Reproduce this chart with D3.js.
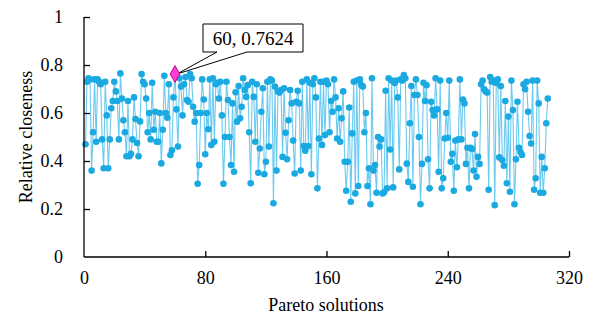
<!DOCTYPE html>
<html><head><meta charset="utf-8">
<script src="https://cdn.jsdelivr.net/npm/d3@7"></script>
<style>body{margin:0;background:#fff}svg{display:block}text{font-family:"Liberation Serif","Times New Roman",serif !important;fill:#000}</style>
</head><body>
<svg id="c" width="593" height="320"></svg>
<script>
const xTicks = [0, 80, 160, 240, 320];
const yTicks = [0, 0.2, 0.4, 0.6, 0.8, 1];
const yTickLabels = ["0", "0.2", "0.4", "0.6", "0.8", "1"];
const xTitle = "Pareto solutions";
const yTitle = "Relative closeness";
const highlight = {x: 60, y: 0.7624, label: "60, 0.7624"};
const closeness = [
0.47,0.73,0.745,0.74,0.36,0.52,0.74,0.48,0.74,0.73,
0.72,0.49,0.37,0.73,0.59,0.37,0.49,0.62,0.65,0.73,
0.69,0.65,0.49,0.765,0.66,0.57,0.52,0.42,0.65,0.42,
0.43,0.49,0.665,0.575,0.475,0.42,0.565,0.762,0.73,0.72,
0.66,0.52,0.60,0.49,0.726,0.53,0.605,0.48,0.48,0.60,
0.39,0.53,0.755,0.60,0.58,0.72,0.425,0.445,0.665,0.7624,
0.615,0.46,0.745,0.71,0.59,0.72,0.75,0.654,0.647,0.762,
0.745,0.626,0.564,0.6,0.305,0.383,0.6,0.74,0.656,0.428,
0.6,0.532,0.74,0.467,0.745,0.48,0.72,0.726,0.66,0.73,
0.59,0.305,0.5,0.73,0.654,0.5,0.383,0.64,0.355,0.686,
0.564,0.712,0.578,0.626,0.745,0.696,0.667,0.716,0.52,0.307,
0.73,0.667,0.48,0.72,0.351,0.452,0.605,0.703,0.345,0.397,
0.73,0.46,0.74,0.735,0.224,0.71,0.36,0.69,0.685,0.696,
0.417,0.703,0.518,0.407,0.57,0.696,0.64,0.485,0.348,0.647,
0.693,0.64,0.36,0.73,0.462,0.443,0.74,0.462,0.726,0.345,
0.72,0.745,0.665,0.286,0.494,0.73,0.467,0.73,0.508,0.735,
0.72,0.52,0.65,0.605,0.74,0.665,0.494,0.62,0.48,0.578,
0.69,0.397,0.276,0.397,0.623,0.23,0.515,0.73,0.265,0.735,
0.296,0.74,0.716,0.71,0.52,0.6,0.296,0.37,0.22,0.745,
0.36,0.383,0.268,0.5,0.46,0.49,0.265,0.27,0.693,0.286,
0.745,0.448,0.735,0.29,0.725,0.735,0.665,0.365,0.74,0.735,
0.758,0.745,0.389,0.313,0.557,0.712,0.293,0.675,0.74,0.675,
0.5,0.22,0.388,0.726,0.65,0.716,0.407,0.286,0.647,0.612,
0.59,0.745,0.615,0.355,0.735,0.286,0.328,0.494,0.6,0.497,
0.735,0.397,0.43,0.276,0.485,0.374,0.49,0.74,0.49,0.656,
0.64,0.388,0.455,0.286,0.455,0.45,0.36,0.512,0.334,0.417,
0.388,0.72,0.735,0.699,0.69,0.685,0.28,0.75,0.73,0.735,
0.216,0.725,0.74,0.415,0.712,0.404,0.38,0.65,0.307,0.585,
0.272,0.735,0.612,0.22,0.407,0.647,0.455,0.437,0.425,0.72,
0.699,0.73,0.605,0.504,0.473,0.735,0.28,0.328,0.735,0.64,
0.268,0.417,0.268,0.37,0.557,0.66
];
const data = closeness.map((v, i) => ({x: i + 1, y: v}));

const svg = d3.select("#c");
const x = d3.scaleLinear().domain([0, 320]).range([84, 569]);
const y = d3.scaleLinear().domain([0, 1]).range([257, 17]);

svg.append("path").datum(data)
  .attr("fill", "none").attr("stroke", "#6ccaf0").attr("stroke-width", 1.1)
  .attr("d", d3.line().x(d => x(d.x)).y(d => y(d.y)));
svg.append("g").selectAll("circle").data(data).join("circle")
  .attr("cx", d => x(d.x)).attr("cy", d => y(d.y)).attr("r", 3.3)
  .attr("fill", "#1ba9e1");

const xAxis = svg.append("g").attr("transform", `translate(0,${y(0)})`)
  .call(d3.axisBottom(x).tickValues(xTicks).tickSize(-6).tickPadding(14).tickFormat(d3.format("d")));
const yAxis = svg.append("g").attr("transform", `translate(${x(0)},0)`)
  .call(d3.axisLeft(y).tickValues(yTicks).tickSize(-6).tickPadding(21).tickFormat((d, i) => yTickLabels[i]));
[xAxis, yAxis].forEach(a => {
  a.attr("font-family", "Liberation Serif");
  a.select(".domain").attr("stroke", "#000").attr("stroke-width", 1.3);
  a.selectAll(".tick line").attr("stroke", "#000").attr("stroke-width", 1.3);
  a.selectAll(".tick text").attr("font-family", "Liberation Serif").style("font-size", "18px").attr("fill", "#000");
});
yAxis.select(".domain").attr("d", `M0,${y(1)}V${y(0)}`);
yAxis.selectAll(".tick").filter(d => d === 0).select("line").remove();
xAxis.selectAll(".tick").filter(d => d === 0).select("line").remove();
xAxis.select(".domain").attr("d", `M${x(0)},0H${x(320)}`);

svg.append("text").attr("x", 326).attr("y", 311).attr("text-anchor", "middle")
  .style("font-size", "18px").text(xTitle);
svg.append("text").attr("transform", `translate(32,${y(0.5)}) rotate(-90)`).attr("text-anchor", "middle")
  .style("font-size", "18px").text(yTitle);

const hx = x(highlight.x), hy = y(highlight.y);
const bx0 = 203, bx1 = 303, by0 = 24, by1 = 52;
svg.append("path")
  .attr("d", `M${bx0},${by0}H${bx1}V${by1}H247L${hx + 2},${hy}L217,${by1}H${bx0}Z`)
  .attr("fill", "#fff").attr("stroke", "#000").attr("stroke-width", 1);
svg.append("text").attr("x", (bx0 + bx1) / 2).attr("y", 45).attr("text-anchor", "middle")
  .style("font-size", "19px").text(highlight.label);
svg.append("path").attr("transform", `translate(${hx},${hy})`)
  .attr("d", d3.symbol(d3.symbolDiamond, 80)())
  .attr("fill", "#ff3fd2").attr("stroke", "#c0008f").attr("stroke-width", 1);
</script>
</body></html>
